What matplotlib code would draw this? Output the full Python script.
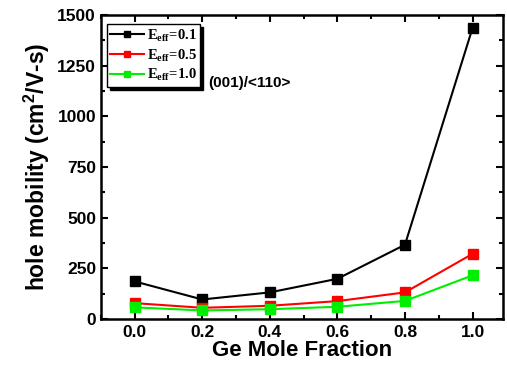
import matplotlib
matplotlib.use("Agg")
import matplotlib.pyplot as plt
from matplotlib.ticker import MultipleLocator

# DADOS

ge_fraction = [0.0, 0.2, 0.4, 0.6, 0.8, 1.0]
mob_01 = [186, 97, 132, 199, 367, 1436]
mob_05 = [79, 56, 66, 89, 132, 322]
mob_10 = [58, 43, 49, 61, 90, 216]
labels = [r"E$_{\mathregular{eff}}$=0.1", r"E$_{\mathregular{eff}}$=0.5", r"E$_{\mathregular{eff}}$=1.0"]

plt.rcParams["font.family"] = "Liberation Sans"
plt.rcParams["font.weight"] = "bold"

fig = plt.figure(figsize=(5.07, 3.66), dpi=100)
ax = fig.add_axes([0.199, 0.128, 0.793, 0.831])

ax.plot(ge_fraction, mob_01, color="black", marker="s", ms=7, lw=1.5, label=labels[0])
ax.plot(ge_fraction, mob_05, color="red", marker="s", ms=7, lw=1.5, label=labels[1])
ax.plot(ge_fraction, mob_10, color="#00ee00", marker="s", ms=7, lw=1.5, label=labels[2])

ax.set_xlim(-0.1, 1.09)
ax.set_ylim(0, 1500)
ax.xaxis.set_major_locator(MultipleLocator(0.2))
ax.xaxis.set_minor_locator(MultipleLocator(0.1))
ax.yaxis.set_major_locator(MultipleLocator(250))
ax.yaxis.set_minor_locator(MultipleLocator(125))
ax.xaxis.set_major_formatter(plt.FormatStrFormatter("%.1f"))

ax.tick_params(which="both", direction="in", top=True, right=True, width=1.5, labelsize=12.5)
ax.tick_params(which="major", length=5)
ax.tick_params(which="minor", length=3)
ax.tick_params(axis="x", pad=4)
for s in ax.spines.values():
    s.set_linewidth(1.8)

ax.set_xlabel("Ge Mole Fraction", fontsize=16, fontweight="bold", labelpad=0)
ax.set_ylabel(r"hole mobility (cm$^{\mathregular{2}}$/V-s)", fontsize=16.5, fontweight="bold", labelpad=4)

leg = ax.legend(loc="upper left", bbox_to_anchor=(0.0, 0.99), frameon=True,
                shadow={"color": "black", "alpha": 1},
                fancybox=False, handlelength=2.3, borderpad=0.25, labelspacing=0.2,
                handletextpad=0.2, borderaxespad=0.4, markerscale=0.7,
                prop={"family": "Liberation Serif", "weight": "bold", "size": 10.5})
leg.get_frame().set_edgecolor("black")
leg.get_frame().set_linewidth(1.0)

ax.text(0.268, 0.762, "(001)/<110>", transform=ax.transAxes, fontsize=11, fontweight="bold")

fig.savefig("out.png", dpi=100)
